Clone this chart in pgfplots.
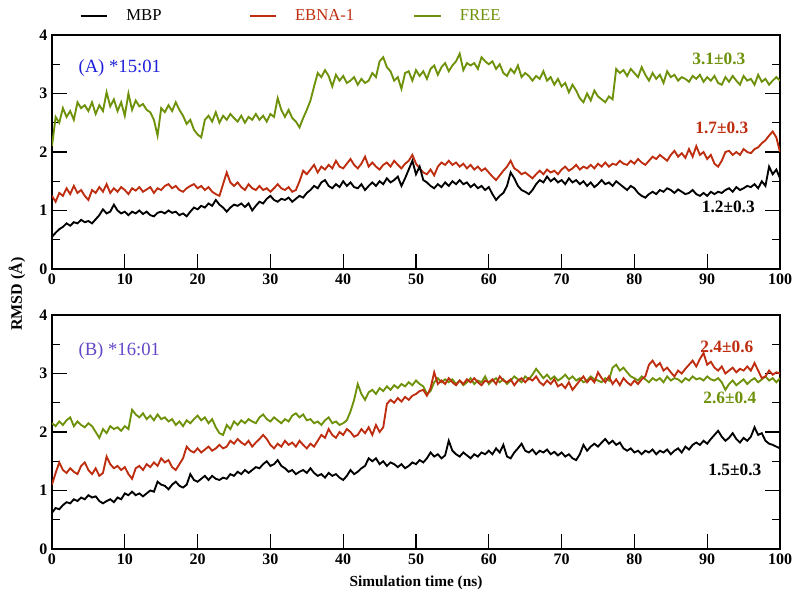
\documentclass[border=0pt]{standalone}
\usepackage{fontspec}
\setmainfont{Liberation Serif}
\usepackage{pgfplots}
\usepackage{pgfplotstable}
\pgfplotsset{compat=1.18}

\definecolor{cmbp}{RGB}{0,0,0}
\definecolor{cebna}{RGB}{190,45,15}
\definecolor{cfree}{RGB}{110,145,10}
\definecolor{cA}{RGB}{30,30,220}
\definecolor{cB}{RGB}{100,70,200}

% panel A: *15:01
\pgfplotstableread{
t mbp ebna free
0 0.55 1.25 2.10
0.5 0.62 1.15 2.60
1 0.68 1.30 2.50
1.5 0.72 1.25 2.75
2 0.78 1.38 2.60
2.5 0.74 1.28 2.70
3 0.80 1.42 2.55
3.5 0.78 1.30 2.85
4 0.84 1.35 2.75
4.5 0.80 1.25 2.80
5 0.82 1.18 2.70
5.5 0.78 1.35 2.85
6 0.85 1.30 2.65
6.5 0.92 1.40 2.80
7 1.02 1.32 2.70
7.5 0.95 1.45 3.02
8 0.98 1.30 2.78
8.5 1.10 1.38 2.90
9 1.00 1.32 2.70
9.5 0.95 1.40 2.85
10 0.98 1.35 2.62
10.5 0.92 1.28 3.00
11 0.98 1.38 2.72
11.5 0.95 1.34 2.88
12 1.00 1.40 2.78
12.5 0.94 1.32 2.82
13 0.98 1.36 2.72
13.5 0.92 1.40 2.68
14 0.90 1.30 2.55
14.5 0.96 1.38 2.28
15 0.98 1.35 2.75
15.5 0.95 1.42 2.68
16 1.00 1.45 2.80
16.5 0.96 1.38 2.70
17 0.98 1.42 2.85
17.5 0.92 1.35 2.72
18 0.95 1.32 2.62
18.5 0.90 1.38 2.48
19 0.98 1.42 2.55
19.5 1.05 1.45 2.38
20 1.02 1.38 2.30
20.5 1.08 1.42 2.25
21 1.05 1.35 2.55
21.5 1.12 1.40 2.62
22 1.08 1.32 2.52
22.5 1.18 1.28 2.68
23 1.10 1.25 2.50
23.5 1.05 1.45 2.62
24 0.98 1.65 2.55
24.5 1.05 1.48 2.65
25 1.10 1.42 2.58
25.5 1.08 1.48 2.52
26 1.12 1.40 2.62
26.5 1.06 1.35 2.50
27 1.12 1.45 2.60
27.5 1.00 1.38 2.55
28 1.08 1.35 2.65
28.5 1.15 1.42 2.55
29 1.12 1.35 2.62
29.5 1.20 1.38 2.52
30 1.25 1.32 2.65
30.5 1.18 1.38 2.60
31 1.15 1.45 2.92
31.5 1.20 1.38 2.72
32 1.18 1.35 2.60
32.5 1.22 1.40 2.72
33 1.15 1.32 2.58
33.5 1.20 1.35 2.52
34 1.25 1.50 2.42
34.5 1.22 1.68 2.58
35 1.30 1.62 2.72
35.5 1.35 1.70 2.88
36 1.42 1.78 3.12
36.5 1.38 1.65 3.35
37 1.48 1.75 3.28
37.5 1.52 1.70 3.40
38 1.42 1.78 3.30
38.5 1.38 1.72 3.12
39 1.45 1.85 3.32
39.5 1.40 1.75 3.22
40 1.50 1.72 3.30
40.5 1.42 1.80 3.18
41 1.48 1.88 3.22
41.5 1.40 1.78 3.28
42 1.38 1.72 3.15
42.5 1.45 1.80 3.25
43 1.35 1.92 3.18
43.5 1.42 1.75 3.22
44 1.48 1.82 3.35
44.5 1.42 1.75 3.28
45 1.50 1.70 3.55
45.5 1.45 1.78 3.62
46 1.55 1.82 3.45
46.5 1.48 1.75 3.38
47 1.52 1.85 3.22
47.5 1.58 1.78 3.28
48 1.42 1.72 3.08
48.5 1.55 1.80 3.35
49 1.70 1.85 3.38
49.5 1.85 1.95 3.22
50 1.62 1.80 3.40
50.5 1.75 1.72 3.30
51 1.52 1.65 3.38
51.5 1.48 1.62 3.25
52 1.42 1.70 3.42
52.5 1.38 1.60 3.48
53 1.45 1.75 3.32
53.5 1.40 1.82 3.45
54 1.48 1.78 3.52
54.5 1.42 1.85 3.38
55 1.50 1.78 3.48
55.5 1.45 1.82 3.55
56 1.52 1.75 3.68
56.5 1.45 1.80 3.40
57 1.48 1.72 3.52
57.5 1.40 1.78 3.48
58 1.45 1.70 3.52
58.5 1.38 1.75 3.42
59 1.42 1.68 3.62
59.5 1.35 1.72 3.55
60 1.40 1.65 3.50
60.5 1.28 1.58 3.55
61 1.18 1.52 3.42
61.5 1.25 1.60 3.50
62 1.30 1.68 3.35
62.5 1.42 1.75 3.30
63 1.65 1.85 3.42
63.5 1.55 1.72 3.35
64 1.42 1.68 3.48
64.5 1.35 1.62 3.28
65 1.32 1.65 3.35
65.5 1.28 1.60 3.30
66 1.35 1.55 3.22
66.5 1.45 1.62 3.30
67 1.52 1.68 3.25
67.5 1.48 1.62 3.38
68 1.58 1.70 3.22
68.5 1.50 1.65 3.28
69 1.55 1.68 3.15
69.5 1.48 1.62 3.25
70 1.52 1.70 3.12
70.5 1.45 1.75 3.18
71 1.55 1.68 3.02
71.5 1.48 1.72 3.15
72 1.52 1.78 3.05
72.5 1.45 1.70 2.92
73 1.50 1.75 2.85
73.5 1.42 1.72 3.00
74 1.48 1.78 2.88
74.5 1.40 1.72 3.05
75 1.45 1.80 2.95
75.5 1.52 1.75 2.90
76 1.45 1.82 2.85
76.5 1.48 1.75 2.95
77 1.42 1.80 2.90
77.5 1.50 1.78 3.42
78 1.45 1.85 3.35
78.5 1.40 1.80 3.40
79 1.35 1.78 3.30
79.5 1.42 1.85 3.42
80 1.38 1.80 3.35
80.5 1.30 1.88 3.28
81 1.25 1.82 3.45
81.5 1.22 1.78 3.32
82 1.28 1.85 3.22
82.5 1.32 1.92 3.35
83 1.28 1.88 3.25
83.5 1.35 1.95 3.32
84 1.32 1.90 3.18
84.5 1.38 1.85 3.38
85 1.35 1.95 3.28
85.5 1.30 2.02 3.32
86 1.36 1.92 3.22
86.5 1.32 1.98 3.28
87 1.28 1.90 3.25
87.5 1.30 2.05 3.20
88 1.35 1.92 3.30
88.5 1.28 2.10 3.25
89 1.25 1.95 3.32
89.5 1.30 2.00 3.20
90 1.25 1.88 3.28
90.5 1.32 1.95 3.22
91 1.28 1.80 3.30
91.5 1.32 1.75 3.18
92 1.30 1.85 3.15
92.5 1.35 2.00 3.28
93 1.38 2.02 3.20
93.5 1.32 1.95 3.30
94 1.40 2.00 3.22
94.5 1.35 1.95 3.15
95 1.38 2.05 3.30
95.5 1.42 2.00 3.22
96 1.40 1.98 3.25
96.5 1.45 2.05 3.15
97 1.38 2.08 3.32
97.5 1.50 2.15 3.20
98 1.42 2.20 3.25
98.5 1.75 2.28 3.15
99 1.62 2.35 3.22
99.5 1.70 2.25 3.28
100 1.55 2.00 3.22
}\panelA

% panel B: *16:01
\pgfplotstableread{
t mbp ebna free
0 0.62 1.10 2.15
0.5 0.70 1.30 2.10
1 0.68 1.48 2.18
1.5 0.75 1.35 2.12
2 0.80 1.30 2.20
2.5 0.78 1.38 2.25
3 0.85 1.32 2.10
3.5 0.82 1.28 2.18
4 0.88 1.42 2.12
4.5 0.85 1.48 2.08
5 0.92 1.35 2.15
5.5 0.88 1.28 2.10
6 0.90 1.38 2.00
6.5 0.82 1.25 1.90
7 0.78 1.30 2.05
7.5 0.82 1.58 1.98
8 0.85 1.45 2.10
8.5 0.80 1.38 2.05
9 0.88 1.42 2.08
9.5 0.85 1.35 2.02
10 0.95 1.40 2.10
10.5 0.92 1.28 2.05
11 0.98 1.20 2.38
11.5 0.92 1.38 2.30
12 0.95 1.42 2.25
12.5 0.90 1.35 2.32
13 0.95 1.45 2.22
13.5 1.00 1.40 2.28
14 0.98 1.48 2.20
14.5 1.15 1.42 2.30
15 1.10 1.55 2.22
15.5 1.08 1.48 2.25
16 1.02 1.52 2.18
16.5 1.10 1.40 2.22
17 1.15 1.35 2.12
17.5 1.08 1.45 2.18
18 1.05 1.55 2.10
18.5 1.10 1.75 2.20
19 1.28 1.68 2.15
19.5 1.18 1.65 2.22
20 1.15 1.72 2.28
20.5 1.20 1.65 2.20
21 1.25 1.70 2.25
21.5 1.18 1.75 2.15
22 1.25 1.68 2.22
22.5 1.20 1.72 2.08
23 1.18 1.78 1.98
23.5 1.22 1.72 1.95
24 1.20 1.75 2.12
24.5 1.28 1.85 2.05
25 1.25 1.80 2.18
25.5 1.32 1.88 2.12
26 1.28 1.82 2.20
26.5 1.35 1.78 2.15
27 1.30 1.85 2.22
27.5 1.35 1.75 2.18
28 1.40 1.82 2.15
28.5 1.38 1.88 2.25
29 1.45 1.95 2.30
29.5 1.50 1.88 2.22
30 1.42 1.78 2.18
30.5 1.45 1.72 2.25
31 1.52 1.80 2.20
31.5 1.42 1.75 2.15
32 1.38 1.85 2.22
32.5 1.32 1.78 2.18
33 1.35 1.82 2.28
33.5 1.28 1.75 2.32
34 1.32 1.85 2.25
34.5 1.35 1.78 2.30
35 1.30 1.72 2.20
35.5 1.38 1.80 2.22
36 1.30 1.75 2.15
36.5 1.25 1.85 2.18
37 1.28 1.95 2.12
37.5 1.22 1.90 2.20
38 1.30 2.05 2.25
38.5 1.25 1.95 2.15
39 1.28 1.90 2.18
39.5 1.22 2.00 2.12
40 1.18 1.95 2.15
40.5 1.25 2.05 2.20
41 1.35 2.00 2.35
41.5 1.28 1.92 2.55
42 1.32 1.95 2.82
42.5 1.38 2.05 2.65
43 1.42 1.98 2.55
43.5 1.55 2.08 2.68
44 1.50 1.95 2.72
44.5 1.55 2.12 2.65
45 1.45 2.00 2.75
45.5 1.50 2.08 2.70
46 1.42 2.48 2.78
46.5 1.48 2.55 2.72
47 1.45 2.50 2.80
47.5 1.40 2.58 2.75
48 1.45 2.52 2.82
48.5 1.38 2.60 2.78
49 1.42 2.55 2.85
49.5 1.48 2.62 2.80
50 1.45 2.65 2.88
50.5 1.52 2.70 2.82
51 1.48 2.72 2.78
51.5 1.55 2.62 2.65
52 1.65 2.75 2.70
52.5 1.58 3.02 2.85
53 1.62 2.82 2.92
53.5 1.55 2.88 2.85
54 1.60 2.82 2.90
54.5 1.85 2.92 2.85
55 1.68 2.85 2.90
55.5 1.62 2.80 2.82
56 1.58 2.88 2.88
56.5 1.65 2.82 2.80
57 1.60 2.90 2.85
57.5 1.55 2.85 2.92
58 1.62 2.92 2.82
58.5 1.58 2.85 2.88
59 1.65 2.80 2.85
59.5 1.62 2.88 2.95
60 1.68 2.85 2.82
60.5 1.62 2.90 2.88
61 1.72 2.82 2.92
61.5 1.65 2.95 2.85
62 1.78 2.88 2.90
62.5 1.58 2.85 2.82
63 1.55 2.90 2.88
63.5 1.65 2.80 2.95
64 1.72 2.88 2.90
64.5 1.80 2.92 2.85
65 1.68 2.85 2.95
65.5 1.65 2.92 2.90
66 1.70 2.88 2.98
66.5 1.62 2.95 3.08
67 1.68 2.85 3.00
67.5 1.65 2.80 2.92
68 1.70 2.88 2.98
68.5 1.62 2.82 2.90
69 1.66 2.90 2.95
69.5 1.60 2.78 2.88
70 1.65 2.82 2.92
70.5 1.58 2.75 2.98
71 1.62 2.85 2.90
71.5 1.55 2.72 2.95
72 1.52 2.80 2.88
72.5 1.62 2.88 2.92
73 1.78 2.95 2.85
73.5 1.68 2.85 2.88
74 1.75 2.92 2.95
74.5 1.80 2.85 2.90
75 1.75 3.02 2.88
75.5 1.82 2.92 2.85
76 1.88 2.85 2.92
76.5 1.80 2.95 2.88
77 1.85 2.82 3.10
77.5 1.78 2.90 3.15
78 1.82 2.80 3.05
78.5 1.72 2.92 3.10
79 1.68 2.85 3.02
79.5 1.72 2.80 2.95
80 1.65 2.88 2.92
80.5 1.68 2.82 2.88
81 1.62 2.90 2.95
81.5 1.68 2.95 2.90
82 1.65 3.15 2.85
82.5 1.70 3.22 2.92
83 1.62 3.12 2.88
83.5 1.68 3.18 2.92
84 1.65 3.05 2.85
84.5 1.70 3.10 2.95
85 1.62 3.02 2.88
85.5 1.68 2.95 2.92
86 1.72 3.05 2.90
86.5 1.65 3.00 2.85
87 1.75 3.08 2.92
87.5 1.70 3.15 2.88
88 1.78 3.22 2.95
88.5 1.82 3.12 2.90
89 1.78 3.25 2.92
89.5 1.85 3.35 2.88
90 1.80 3.15 2.95
90.5 1.88 3.20 2.90
91 1.95 3.10 2.88
91.5 2.02 3.05 2.92
92 1.92 3.12 2.85
92.5 1.85 3.00 2.72
93 1.90 3.05 2.82
93.5 1.98 3.10 2.88
94 1.88 3.02 2.80
94.5 1.82 3.08 2.85
95 1.90 3.05 2.90
95.5 1.85 3.12 2.82
96 1.92 3.05 2.88
96.5 2.08 3.18 2.92
97 1.95 3.05 2.85
97.5 1.98 2.92 2.90
98 1.85 2.95 2.95
98.5 1.80 3.05 2.88
99 1.78 2.98 2.92
99.5 1.75 3.02 2.85
100 1.72 3.00 2.92
}\panelB

\pgfplotsset{
  rmsd/.style={
    scale only axis, width=546pt, height=175.5pt,
    xmin=0, xmax=100, ymin=0, ymax=4,
    xtick={0,10,...,100}, ytick={0,1,2,3,4},
    minor y tick num=1,
    tick align=inside, xtick pos=left, ytick pos=both, yticklabel pos=left,
    major tick length=11pt, minor tick length=6pt,
    axis line style={line width=0.9pt},
    every tick/.style={line width=0.9pt, black},
    tick label style={font=\fontsize{12}{14}\selectfont\bfseries},
    /pgf/number format/assume math mode=true,
    trace/.style={line width=1.4pt},
    clip=true,
  },
}

\begin{document}
\begin{tikzpicture}
\path[use as bounding box] (-39pt,-38.25pt) rectangle (558.75pt,411.75pt);

% (A)
\begin{axis}[rmsd, at={(0,210pt)}, anchor=south west,
  legend columns=3,
  legend image code/.code={\draw[#1] (0pt,0pt) -- (20pt,0pt);},
  legend style={at={(0.038,1)}, anchor=south west, yshift=9pt, draw=none, fill=none,
    inner sep=0pt, font=\fontsize{12.5}{14}\selectfont,
    nodes={inner sep=0pt, anchor=west}, column sep=13.5pt},
]
\addlegendimage{cmbp, line width=1.3pt}
\addlegendentry{\makebox[78.25pt][l]{\textcolor{cmbp}{MBP}}}
\addlegendimage{cebna, line width=1.3pt}
\addlegendentry{\makebox[75.25pt][l]{\textcolor{cebna}{EBNA-1}}}
\addlegendimage{cfree, line width=1.3pt}
\addlegendentry{\textcolor{cfree}{FREE}}

\addplot[cfree, trace, forget plot] table[x=t, y=free]{\panelA};
\addplot[cebna, trace, forget plot] table[x=t, y=ebna]{\panelA};
\addplot[cmbp, trace, forget plot] table[x=t, y=mbp]{\panelA};

\node[anchor=west, text=cA, font=\fontsize{14}{16}\selectfont] at (axis cs:3.0,3.44) {(A) *15:01};
\node[text=cfree, font=\fontsize{13}{15}\selectfont\bfseries] at (axis cs:91.6,3.6) {3.1±0.3};
\node[text=cebna, font=\fontsize{13}{15}\selectfont\bfseries] at (axis cs:92,2.41) {1.7±0.3};
\node[text=cmbp, font=\fontsize{13}{15}\selectfont\bfseries] at (axis cs:92.9,1.06) {1.2±0.3};
\end{axis}

% (B)
\begin{axis}[rmsd, at={(0,0)}, anchor=south west,
  xlabel={Simulation time (ns)},
  xlabel style={font=\fontsize{11.5}{13}\selectfont\bfseries, yshift=-2pt},
]
\addplot[cfree, trace] table[x=t, y=free]{\panelB};
\addplot[cebna, trace] table[x=t, y=ebna]{\panelB};
\addplot[cmbp, trace] table[x=t, y=mbp]{\panelB};

\node[anchor=west, text=cB, font=\fontsize{14}{16}\selectfont] at (axis cs:3.0,3.38) {(B) *16:01};
\node[text=cebna, font=\fontsize{13}{15}\selectfont\bfseries] at (axis cs:92.7,3.45) {2.4±0.6};
\node[text=cfree, font=\fontsize{13}{15}\selectfont\bfseries] at (axis cs:93.1,2.58) {2.6±0.4};
\node[text=cmbp, font=\fontsize{13}{15}\selectfont\bfseries] at (axis cs:93.8,1.36) {1.5±0.3};
\end{axis}

\node[rotate=90, font=\fontsize{12}{14}\selectfont\bfseries] at (-26.25pt,191.25pt) {RMSD (Å)};
\end{tikzpicture}
\end{document}
